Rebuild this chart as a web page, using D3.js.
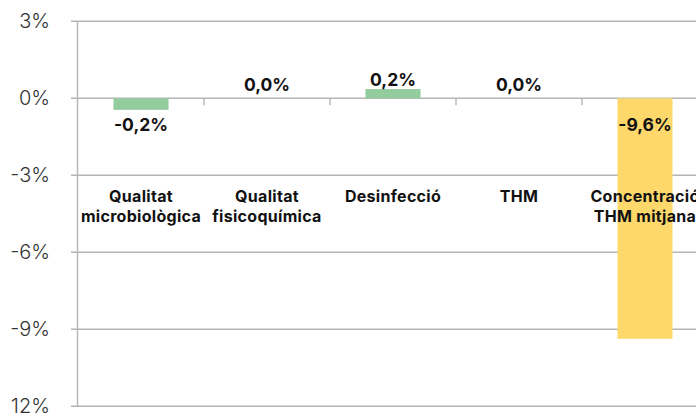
<!DOCTYPE html>
<html>
<head>
<meta charset="utf-8">
<script src="https://cdn.jsdelivr.net/npm/d3@7"></script>
<style>
  body { margin: 0; background: #fff; }
  svg { display: block; font-family: Inter, "Liberation Sans", sans-serif; }
</style>
</head>
<body>
<div id="chart"></div>
<script>
// categories (each one split in lines)
const categories = [
    ["Qualitat", "microbiològica"],
    ["Qualitat", "fisicoquímica"],
    ["Desinfecció"],
    ["THM"],
    ["Concentració", "THM mitjana"]
];
// bar heights as drawn (%)
const barValues = [-0.45, 0, 0.36, 0, -9.37];
// values printed on the bars (%)
const labelValues = [-0.2, 0, 0.2, 0, -9.6];
const barColors = ["#93cd9e", "#93cd9e", "#93cd9e", "#93cd9e", "#ffd86b"];
const tickValues = [3, 0, -3, -6, -9, -12];
const tickLabels = ["3%", "0%", "-3%", "-6%", "-9%", "12%"];

const width = 696, height = 414;
const marginLeft = 78, plotTop = 21.3, plotBottom = 406.3;
const step = 126;

const svg = d3.select("#chart").append("svg")
    .attr("width", width)
    .attr("height", height);

const y = d3.scaleLinear().domain([-12, 3]).range([plotBottom, plotTop]);

const x = d3.scaleBand()
    .domain(d3.range(categories.length))
    .range([marginLeft, marginLeft + step * categories.length])
    .paddingInner(0.563)
    .paddingOuter(0.563 / 2);

// gridlines + y labels
const grid = svg.append("g");
grid.selectAll("line")
    .data(tickValues)
    .enter()
    .append("line")
    .attr("x1", marginLeft - 7)
    .attr("x2", width)
    .attr("y1", d => y(d))
    .attr("y2", d => y(d))
    .attr("stroke", "#b5b5b5")
    .attr("stroke-width", 1.4);

grid.selectAll("text")
    .data(tickValues)
    .enter()
    .append("text")
    .attr("x", 50)
    .attr("y", d => y(d) + 7)
    .attr("text-anchor", "end")
    .style("font-size", "20px")
    .style("font-weight", 300)
    .style("fill", "#333")
    .text((d, i) => tickLabels[i]);

// vertical axis line
svg.append("line")
    .attr("x1", marginLeft - 0.5)
    .attr("x2", marginLeft - 0.5)
    .attr("y1", y(3))
    .attr("y2", y(-12))
    .attr("stroke", "#b5b5b5")
    .attr("stroke-width", 1.4);

// bars
svg.append("g")
    .selectAll("rect")
    .data(barValues)
    .enter()
    .append("rect")
    .attr("x", (d, i) => x(i))
    .attr("width", x.bandwidth())
    .attr("y", d => y(Math.max(0, d)))
    .attr("height", d => Math.abs(y(d) - y(0)))
    .attr("fill", (d, i) => barColors[i]);

// small ticks on the zero line between categories
svg.append("g")
    .selectAll("line")
    .data(d3.range(1, categories.length))
    .enter()
    .append("line")
    .attr("x1", i => marginLeft + i * x.step())
    .attr("x2", i => marginLeft + i * x.step())
    .attr("y1", y(0))
    .attr("y2", y(0) + 7)
    .attr("stroke", "#b5b5b5")
    .attr("stroke-width", 1.4);

// value labels (plain hyphen, decimal comma)
const fmt = v => d3.format(".1f")(v).replace("−", "-").replace(".", ",") + "%";
svg.append("g")
    .selectAll("text")
    .data(labelValues)
    .enter()
    .append("text")
    .attr("x", (d, i) => x(i) + x.bandwidth() / 2)
    .attr("y", d => d < 0 ? y(0) + 33 : y(d) - 7)
    .attr("text-anchor", "middle")
    .style("font-size", "17.5px")
    .style("font-weight", 700)
    .style("fill", "#111")
    .text(d => fmt(d));

// category labels
const cat = svg.append("g")
    .selectAll("text")
    .data(categories)
    .enter()
    .append("text")
    .attr("text-anchor", "middle")
    .style("font-size", "16px")
    .style("font-weight", 700)
    .style("letter-spacing", "0.3px")
    .style("fill", "#111");

cat.selectAll("tspan")
    .data((d, i) => d.map(line => ({ line: line, i: i })))
    .enter()
    .append("tspan")
    .attr("x", d => x(d.i) + x.bandwidth() / 2)
    .attr("y", (d, j) => 202 + j * 20)
    .text(d => d.line);
</script>
</body>
</html>
